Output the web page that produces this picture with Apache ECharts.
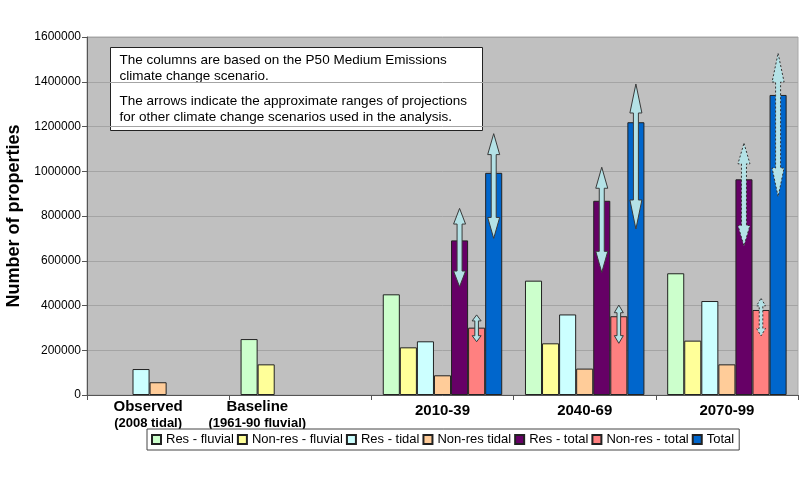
<!DOCTYPE html>
<html>
<head>
<meta charset="utf-8">
<script src="https://cdn.jsdelivr.net/npm/echarts@6/dist/echarts.min.js"></script>
<style>
html,body{margin:0;padding:0;background:#fff;}
#c{width:809px;height:497px;}
</style>
</head>
<body>
<div id="c"></div>
<script>
// ---- data ----
const categories = ['Observed', 'Baseline', '2010-39', '2040-69', '2070-99'];
const subLabels = ['(2008 tidal)', '(1961-90 fluvial)', '', '', ''];
const seriesNames = ['Res - fluvial', 'Non-res - fluvial', 'Res - tidal', 'Non-res tidal', 'Res - total', 'Non-res - total', 'Total'];
const resFluvial    = ['-', 250000, 450000, 511000, 544000];
const nonResFluvial = ['-', 137000, 213000, 231000, 243000];
const resTidal      = [116000, '-', 240000, 360000, 420000];
const nonResTidal   = [57000, '-', 88000, 118000, 137000];
const resTotal      = ['-', '-', 691000, 868000, 964000];
const nonResTotal   = ['-', '-', 301000, 352000, 380000];
const total         = ['-', '-', 993000, 1219000, 1341000];
// ranges for other scenarios (arrows) for the three future periods
const arrowCategories = [2, 3, 4];
const resTotalLow     = [484000, 548000, 666000];
const resTotalHigh    = [834000, 1018000, 1125000];
const nonResTotalLow  = [238000, 231000, 264000];
const nonResTotalHigh = [358000, 402000, 432000];
const totalLow        = [700000, 742000, 886000];
const totalHigh       = [1168000, 1390000, 1527000];
const arrowDashed     = [0, 0, 1];
const yTicks = [0, 200000, 400000, 600000, 800000, 1000000, 1200000, 1400000, 1600000];
const noteLines1 = ['The columns are based on the P50 Medium Emissions', 'climate change scenario.'];
const noteLines2 = ['The arrows indicate the approximate ranges of projections', 'for other climate change scenarios used in the analysis.'];

const colors = ['#ccffcc', '#ffff99', '#ccffff', '#ffcc99', '#660066', '#ff8080', '#0066cc'];
const seriesData = [resFluvial, nonResFluvial, resTidal, nonResTidal, resTotal, nonResTotal, total];
const GAP = 0.16;
const FONT = 'Arial, "Liberation Sans", sans-serif';

const arrowData = [];
arrowCategories.forEach((c, i) => {
  arrowData.push([c, 4, resTotalLow[i], resTotalHigh[i], arrowDashed[i]]);
  arrowData.push([c, 5, nonResTotalLow[i], nonResTotalHigh[i], arrowDashed[i]]);
  arrowData.push([c, 6, totalLow[i], totalHigh[i], arrowDashed[i]]);
});

const chart = echarts.init(document.getElementById('c'));

const barSeries = seriesNames.map((n, i) => ({
  name: n,
  type: 'bar',
  data: seriesData[i],
  barGap: '0%',
  barCategoryGap: (GAP * 100) + '%',
  itemStyle: { color: colors[i], borderColor: '#222', borderWidth: 1 },
  emphasis: { disabled: true },
  animation: false
}));

function renderArrow(params, api) {
  const cat = api.value(0), sIdx = api.value(1);
  const lo = api.value(2), hi = api.value(3), dashed = api.value(4);
  const pLo = api.coord([cat, lo]);
  const pHi = api.coord([cat, hi]);
  const band = api.size([1, 0])[0];
  const barW = band * (1 - GAP) / 7;
  const x = pLo[0] + (sIdx - 3) * barW;
  const yT = pHi[1], yB = pLo[1];
  const len = yB - yT;
  const small = len < 50;
  const hw = small ? 4.5 : 6;
  const sw = small ? 1.8 : 2.5;
  const hl = Math.max(6, Math.min(30, len * 0.2));
  const pts = [
    [x, yT], [x + hw, yT + hl], [x + sw, yT + hl], [x + sw, yB - hl], [x + hw, yB - hl],
    [x, yB], [x - hw, yB - hl], [x - sw, yB - hl], [x - sw, yT + hl], [x - hw, yT + hl]
  ];
  return {
    type: 'polygon',
    shape: { points: pts },
    style: {
      fill: '#b4e2e6',
      stroke: dashed ? '#333' : '#3a3a3a',
      lineWidth: 1,
      lineDash: dashed ? [2, 2] : null
    }
  };
}

const option = {
  backgroundColor: '#fff',
  animation: false,
  textStyle: { fontFamily: FONT },
  grid: {
    left: 87, right: 11, top: 37, bottom: 102,
    show: true, backgroundColor: '#c0c0c0', borderColor: '#a8a8a8', borderWidth: 1,
    containLabel: false,
    outerBoundsMode: 'none'
  },
  legend: {
    data: seriesNames,
    left: 147, top: 429,
    itemWidth: 9, itemHeight: 9, itemGap: 3,
    icon: 'rect',
    padding: [4, 5, 4, 4],
    borderColor: '#444', borderWidth: 1, backgroundColor: '#fff',
    textStyle: { fontSize: 13, color: '#000', fontFamily: FONT },
    selectedMode: false
  },
  xAxis: {
    type: 'category',
    data: categories,
    axisLine: { lineStyle: { color: '#555', width: 1 } },
    axisTick: { show: true, length: 5, lineStyle: { color: '#555' } },
    splitLine: { show: false },
    axisLabel: {
      interval: 0,
      margin: 4,
      color: '#000',
      fontFamily: FONT,
      formatter: function (v, idx) {
        if (idx === 0) return '{a0|' + v + '}\n{b0|' + subLabels[idx] + '}';
        if (idx === 1) return '{a1|' + v + '}\n{b1|' + subLabels[idx] + '}';
        return '{y|' + v + '}';
      },
      rich: {
        a0: { fontSize: 15, fontWeight: 'bold', lineHeight: 16, padding: [0, 20, 0, 0], fontFamily: FONT },
        b0: { fontSize: 13, fontWeight: 'bold', lineHeight: 16, padding: [0, 20, 0, 0], fontFamily: FONT },
        a1: { fontSize: 15, fontWeight: 'bold', lineHeight: 16, padding: [0, 86, 0, 0], fontFamily: FONT },
        b1: { fontSize: 13, fontWeight: 'bold', lineHeight: 16, padding: [0, 86, 0, 0], fontFamily: FONT },
        y:  { fontSize: 15, fontWeight: 'bold', lineHeight: 16, padding: [8, 0, 0, 0], fontFamily: FONT }
      }
    }
  },
  yAxis: {
    type: 'value',
    min: yTicks[0], max: yTicks[yTicks.length - 1], interval: yTicks[1] - yTicks[0],
    name: 'Number of properties',
    nameLocation: 'middle',
    nameRotate: 90,
    nameGap: 57,
    nameTextStyle: { fontSize: 18, fontWeight: 'bold', color: '#000', fontFamily: FONT },
    axisLine: { show: true, lineStyle: { color: '#555', width: 1 } },
    axisTick: { show: true, length: 5, lineStyle: { color: '#555' } },
    axisLabel: { fontSize: 12, color: '#000', margin: 6, fontFamily: FONT,
      formatter: function (v) { return String(v); } },
    splitLine: { show: true, lineStyle: { color: '#a4a4a4', width: 1 } }
  },
  series: barSeries.concat([{
    type: 'custom',
    name: 'ranges',
    renderItem: renderArrow,
    data: arrowData,
    encode: { x: 0, y: [2, 3] },
    z: 10,
    silent: true
  }]),
  graphic: [{
    type: 'group',
    left: 110, top: 47,
    children: [
      { type: 'rect', shape: { x: 0, y: 0, width: 372, height: 83 },
        style: { fill: '#fff', stroke: '#222', lineWidth: 1 } },
      { type: 'text', left: 9, top: 5,
        style: { text: noteLines1.join('\n'), lineHeight: 16, fill: '#000', font: '13.5px ' + FONT } },
      { type: 'text', left: 9, top: 46,
        style: { text: noteLines2.join('\n'), lineHeight: 16, fill: '#000', font: '13.5px ' + FONT } }
    ]
  }]
};
chart.setOption(option);
</script>
</body>
</html>
